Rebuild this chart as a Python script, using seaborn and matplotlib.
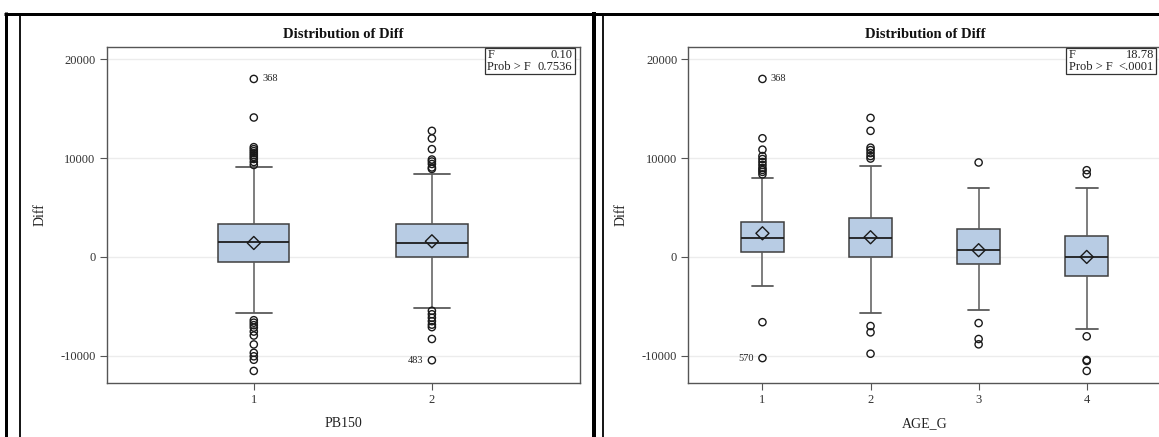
import numpy as np
import pandas as pd
import matplotlib
matplotlib.use("Agg")
import matplotlib.pyplot as plt
from matplotlib.lines import Line2D
from matplotlib.patches import Rectangle
import seaborn as sns

# ---------------- Diff by PB150 ----------------
pb_groups = ["1", "2"]
pb_whisker_low = [-5660, -5120]
pb_q1 = [-535, -40]
pb_median = [1550, 1380]
pb_q3 = [3330, 3330]
pb_whisker_high = [9090, 8380]
pb_mean = [1410, 1580]
pb_outlier_group = (["1"] * 22) + (["2"] * 16)
pb_outlier_value = [
    18000, 14100, 11100, 10900, 10700, 10500, 10300, 10100, 9900, 9600, 9300,
    -6400, -6650, -6900, -7150, -7550, -7950, -8850, -9700, -10050, -10400, -11530,
    12750, 11980, 10900, 9850, 9650, 9400, 9050, 8900,
    -5450, -5800, -6150, -6500, -6850, -7100, -8300, -10450,
]
pb_stats = {"F": "0.10", "Prob > F": "0.7536"}
pb_labels = [("1", 18000, "368", "right"), ("2", -10450, "483", "left")]

# ---------------- Diff by AGE_G ----------------
age_groups = ["1", "2", "3", "4"]
age_whisker_low = [-2950, -5650, -5380, -7250]
age_q1 = [545, -20, -670, -1880]
age_median = [1930, 1950, 710, 30]
age_q3 = [3560, 3970, 2790, 2120]
age_whisker_high = [7980, 9180, 6940, 6960]
age_mean = [2390, 1990, 680, 0]
age_outlier_group = (["1"] * 13) + (["2"] * 10) + (["3"] * 4) + (["4"] * 6)
age_outlier_value = [
    18000, 12000, 10850, 10200, 9900, 9600, 9300, 9000, 8800, 8600, 8350, -6600, -10230,
    14060, 12750, 11050, 10800, 10500, 10200, 9950, -6990, -7630, -9790,
    9550, -6690, -8300, -8840,
    8770, 8370, -8030, -10420, -10520, -11530,
]
age_stats = {"F": "18.78", "Prob > F": "<.0001"}
age_labels = [("1", 18000, "368", "right"), ("1", -10230, "570", "left")]

y_ticks = [-10000, 0, 10000, 20000]
y_tick_labels = ["-10000", "0", "10000", "20000"]

# ---------------- styling ----------------
BOX_FILL = "#b8cce4"
BOX_EDGE = "#3f3f3f"
WHISKER = "#5a5a5a"
FRAME = "#555555"
GRID = "#ececec"
TEXT = "#222222"

sns.set_theme(style="white")
plt.rcParams["font.family"] = ["Liberation Serif", "DejaVu Serif"]
plt.rcParams["axes.unicode_minus"] = False

FIG_W, FIG_H = 1159, 437
fig = plt.figure(figsize=(FIG_W / 100, FIG_H / 100), dpi=100)
fig.patch.set_facecolor("white")


def fx(px):
    return px / FIG_W


def fy(py):
    return 1 - py / FIG_H


def five_number_frame(groups, lo, q1, med, q3, hi):
    rows = []
    for g, a, b, c, d, e in zip(groups, lo, q1, med, q3, hi):
        for v in (a, b, c, d, e):
            rows.append((g, v))
    return pd.DataFrame(rows, columns=["group", "Diff"])


def draw_panel(ax, groups, lo, q1, med, q3, hi, means, og, ov, stats,
               labels, xlabel, xlim, ax_w_px, ax_h_px):
    summary = five_number_frame(groups, lo, q1, med, q3, hi)
    sns.boxplot(
        data=summary, x="group", y="Diff", order=groups, whis=(0, 100),
        width=0.4, color=BOX_FILL, saturation=1, linecolor=BOX_EDGE,
        linewidth=1.1, fliersize=0, ax=ax,
        medianprops=dict(color="#1e1e1e", linewidth=1.3),
        whiskerprops=dict(color=WHISKER, linewidth=1.1),
        capprops=dict(color=WHISKER, linewidth=1.3),
        boxprops=dict(edgecolor=BOX_EDGE, linewidth=1.1),
    )
    outliers = pd.DataFrame({"group": og, "Diff": ov})
    sns.scatterplot(data=outliers, x="group", y="Diff", marker="o", s=27,
                    facecolor="none", edgecolor="#1a1a1a", linewidth=1.0,
                    ax=ax, zorder=6, legend=False)
    ax.collections[-1].set_facecolor("none")
    mean_df = pd.DataFrame({"group": groups, "Diff": means})
    sns.scatterplot(data=mean_df, x="group", y="Diff", marker="D", s=44,
                    facecolor="none", edgecolor="#1a1a1a", linewidth=1.0,
                    ax=ax, zorder=7, legend=False)
    ax.collections[-1].set_facecolor("none")

    for g, v, txt, side in labels:
        xi = groups.index(g)
        off = 6 if side == "right" else -6
        ax.annotate(txt, xy=(xi, v), xytext=(off, 0), textcoords="offset points",
                    ha="left" if side == "right" else "right", va="center",
                    fontsize=7.5, color=TEXT, zorder=8)

    ax.set_xlim(*xlim)
    ax.set_ylim(-12750, 21260)
    ax.set_yticks(y_ticks)
    ax.set_yticklabels(y_tick_labels)
    ax.grid(axis="y", color=GRID, linewidth=1.0)
    ax.grid(axis="x", visible=False)
    ax.set_axisbelow(True)
    for sp in ax.spines.values():
        sp.set_color(FRAME)
        sp.set_linewidth(1.0)
    ax.tick_params(axis="both", direction="out", length=5, width=0.8,
                   color=FRAME, labelcolor="#333333", labelsize=9, pad=3,
                   left=True, bottom=True)
    ax.set_title("Distribution of Diff", fontsize=10.5, fontweight="bold",
                 color="#111111", pad=6)
    ax.set_ylabel("Diff", fontsize=10, color=TEXT)
    ax.set_xlabel(xlabel, fontsize=10, color=TEXT)
    ax.yaxis.set_label_coords(-0.128, 0.5)
    ax.xaxis.set_label_coords(0.5, -0.1)

    # F statistic inset in the upper right corner
    w = 90 / ax_w_px
    h = 26 / ax_h_px
    right = 1 - 5 / ax_w_px
    top = 1 - 1 / ax_h_px
    ax.add_patch(Rectangle((right - w, top - h), w, h, transform=ax.transAxes,
                           facecolor="white", edgecolor="#333333",
                           linewidth=0.9, zorder=9, clip_on=False))
    for i, (k, v) in enumerate(stats.items()):
        yrow = top - (7 + 12 * i) / ax_h_px
        ax.text(right - w + 2.5 / ax_w_px, yrow, k, transform=ax.transAxes,
                ha="left", va="center", fontsize=9, color=TEXT, zorder=10)
        ax.text(right - 2.5 / ax_w_px, yrow, v, transform=ax.transAxes,
                ha="right", va="center", fontsize=9, color=TEXT, zorder=10)


AX_TOP, AX_BOT = 46.7, 383.0
AX_H = AX_BOT - AX_TOP
AX_W = 473.0

ax1 = fig.add_axes([fx(106.7), fy(AX_BOT), AX_W / FIG_W, AX_H / FIG_H])
draw_panel(ax1, pb_groups, pb_whisker_low, pb_q1, pb_median, pb_q3,
           pb_whisker_high, pb_mean, pb_outlier_group, pb_outlier_value,
           pb_stats, pb_labels, "PB150", (-0.826, 1.83), AX_W, AX_H)

ax2 = fig.add_axes([fx(688.3), fy(AX_BOT), AX_W / FIG_W, AX_H / FIG_H])
draw_panel(ax2, age_groups, age_whisker_low, age_q1, age_median, age_q3,
           age_whisker_high, age_mean, age_outlier_group, age_outlier_value,
           age_stats, age_labels, "AGE_G", (-0.686, 3.69), AX_W, AX_H)

# Page frame lines around the two output panels
frame_lines = [
    ((4, 1159), (13.5, 13.5), 3.0),
    ((6, 6), (12, 437), 3.0),
    ((19.5, 19.5), (13, 437), 1.8),
    ((594, 594), (12, 437), 4.0),
    ((602.5, 602.5), (13, 437), 1.8),
]
for xs, ys, lw_px in frame_lines:
    fig.add_artist(Line2D([fx(xs[0]), fx(xs[1])], [fy(ys[0]), fy(ys[1])],
                          transform=fig.transFigure, color="black",
                          linewidth=lw_px * 0.72, solid_capstyle="butt"))

fig.savefig("out.png", dpi=100)
